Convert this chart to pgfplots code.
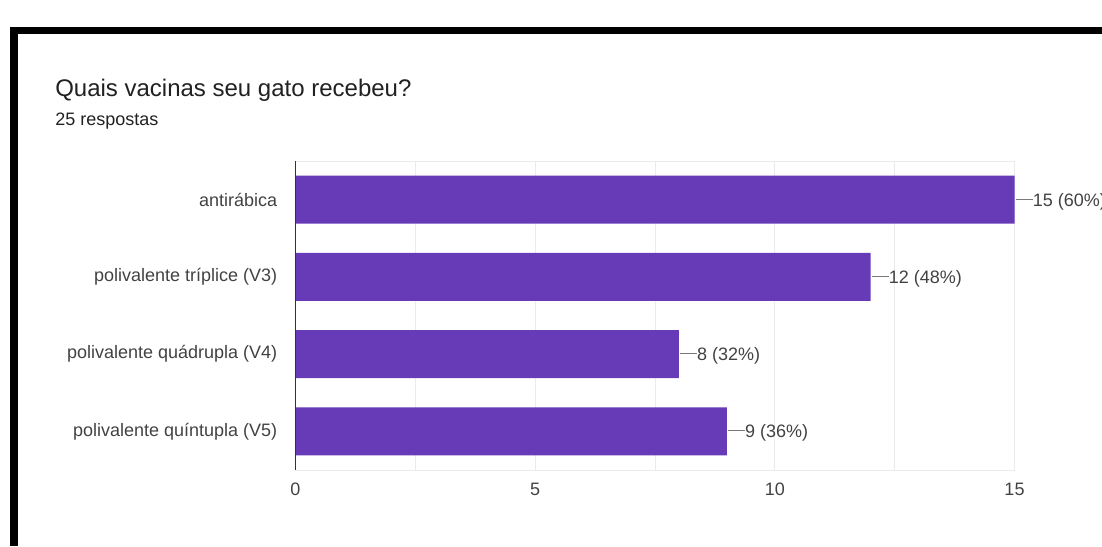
\documentclass[border=0pt]{standalone}
\usepackage{pgfplots}
\pgfplotsset{compat=1.18}
\usepackage{fontspec}
\setmainfont{Liberation Sans}
\definecolor{barpurple}{RGB}{103,58,183}
\definecolor{labelgray}{RGB}{66,66,66}
\definecolor{titlegray}{RGB}{33,33,33}
\definecolor{gridgray}{RGB}{235,235,235}
\definecolor{axisdark}{RGB}{51,51,51}
\definecolor{connector}{RGB}{120,120,120}
\newcommand{\lbl}{\fontsize{13.5}{16}\selectfont}
\begin{document}
\begin{tikzpicture}
% frame bands of the screenshot
\fill[black] (10*0.75pt,-27*0.75pt) rectangle (1102*0.75pt,-34*0.75pt);
\fill[black] (10*0.75pt,-27*0.75pt) rectangle (18*0.75pt,-546*0.75pt);
% title and subtitle
\node[anchor=base west, inner sep=0pt, text=titlegray, font=\fontsize{18}{21}\selectfont] at (55*0.75pt,-96*0.75pt) {Quais vacinas seu gato recebeu?};
\node[anchor=base west, inner sep=0pt, text=titlegray, font=\lbl] at (55*0.75pt,-125*0.75pt) {25 respostas};
\begin{axis}[
  at={(295.5*0.75pt,-470*0.75pt)}, anchor=south west,
  scale only axis,
  width=539.25pt, height=231.75pt,
  xbar, bar width=36pt,
  xmin=0, xmax=15,
  ymin=-0.5, ymax=3.5,
  y dir=reverse,
  xtick={0,5,10,15},
  minor xtick={2.5,7.5,12.5},
  ytick={0,1,2,3},
  yticklabels={antirábica, polivalente tríplice (V3), polivalente quádrupla (V4), polivalente quíntupla (V5)},
  major tick length=0pt, minor tick length=0pt,
  xmajorgrids, xminorgrids,
  grid style={draw=gridgray, line width=0.75pt},
  minor grid style={draw=gridgray, line width=0.75pt},
  axis line style={draw=gridgray, line width=0.75pt},
  /pgf/number format/assume math mode=true,
  xticklabel style={anchor=north, inner sep=0pt, yshift=-9.75pt, font=\lbl, text=labelgray},
  yticklabel style={anchor=east, inner sep=0pt, xshift=-13.5pt, font=\lbl, text=labelgray},
  point meta=explicit symbolic,
  nodes near coords={\textcolor{connector}{\rule[4.8pt]{12.75pt}{0.75pt}}\pgfplotspointmeta},
  every node near coord/.append style={anchor=base west, inner sep=0pt, xshift=0.75pt, yshift=-4.8pt, font=\lbl, text=labelgray},
  clip=false,
]
\addplot[fill=barpurple, draw=none] coordinates {
  (15,0) [15 (60\%)]
  (12,1) [12 (48\%)]
  (8,2) [8 (32\%)]
  (9,3) [9 (36\%)]
};
\draw[axisdark, line width=1.2pt] (axis cs:0,-0.5) -- (axis cs:0,3.5);
\end{axis}
\pgfresetboundingbox
\path[use as bounding box] (0,0) rectangle (1102*0.75pt,-546*0.75pt);
\end{tikzpicture}
\end{document}
